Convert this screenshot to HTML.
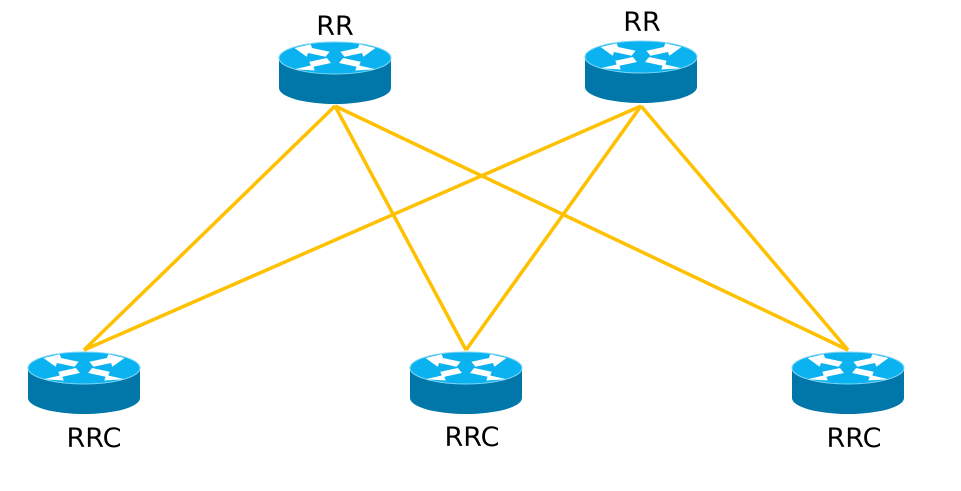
<!DOCTYPE html>
<html><head><style>body{margin:0;background:#fff}</style></head><body>
<svg width="961" height="486" viewBox="0 0 961 486" xmlns="http://www.w3.org/2000/svg" font-family="DejaVu Sans, Liberation Sans, sans-serif">
<defs>
<g id="r">
<path d="M-56,0 L-56,30 A56,16 0 0 0 56,30 L56,0 Z" fill="#0077a8"/>
<ellipse cx="0" cy="0" rx="56" ry="16" fill="#0ab2ef" stroke="#7fd6f5" stroke-width="1"/>
<g fill="#fff" transform="scale(1.35,1.25)">
<polygon points="-30,-8 -18,-11 -17,-8 -4,-5 -7,-1 -20,-4 -21,-1"/>
<polygon points="30,-8 18,-11 17,-8 4,-5 7,-1 20,-4 21,-1"/>
<polygon points="-30,9 -18,6 -19,3 -6,0 -3,4 -16,7 -15,10"/>
<polygon points="30,9 18,6 19,3 6,0 3,4 16,7 15,10"/>
</g>
</g>
</defs>
<g stroke="#ffc000" stroke-width="3.5" fill="none">
<line x1="335" y1="106" x2="84" y2="350"/>
<line x1="335" y1="106" x2="466" y2="350"/>
<line x1="335" y1="106" x2="848" y2="350"/>
<line x1="641" y1="106" x2="84" y2="350"/>
<line x1="641" y1="106" x2="466" y2="350"/>
<line x1="641" y1="106" x2="848" y2="350"/>
</g>
<use href="#r" x="335" y="58"/>
<use href="#r" x="641" y="57"/>
<use href="#r" x="84" y="368"/>
<use href="#r" x="466" y="368"/>
<use href="#r" x="848" y="368"/>
<g font-size="27" text-anchor="middle" fill="#000">
<text x="335" y="35">RR</text>
<text x="642" y="31">RR</text>
<text x="94" y="447">RRC</text>
<text x="472" y="446">RRC</text>
<text x="854" y="447">RRC</text>
</g>
</svg>
</body></html>
